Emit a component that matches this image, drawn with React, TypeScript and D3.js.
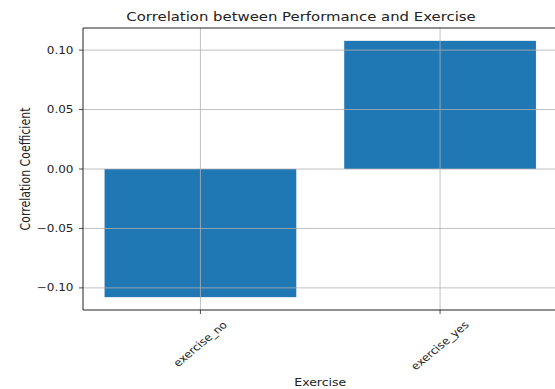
import React, { useEffect, useRef } from "react";
import * as d3 from "d3";

const categories = ["exercise_no", "exercise_yes"];
const values = [-0.1078, 0.1078];
const yTicks = [-0.1, -0.05, 0, 0.05, 0.1];
const yTickLabels = ["−0.10", "−0.05", "0.00", "0.05", "0.10"];
const titleText = "Correlation between Performance and Exercise";
const xLabelText = "Exercise";
const yLabelText = "Correlation Coefficient";

const W = 555;
const H = 389;
const SX = 1.2;
const FONT = "DejaVu Sans, sans-serif";
const TXT = "#222";

export default function App() {
  const ref = useRef<SVGSVGElement>(null);

  useEffect(() => {
    const svg = d3.select(ref.current);
    svg.selectAll("*").remove();

    const left = 83, right = 557.5, top = 28, bottom = 310;
    const edge = W;
    const x = d3.scaleLinear().domain([-0.49, 1.49]).range([left, right]);
    const y = d3.scaleLinear().domain([-0.1186, 0.1186]).range([bottom, top]);
    const bw = 0.8;

    svg.append("rect").attr("width", W).attr("height", H).attr("fill", "#fff");

    // bars
    svg.selectAll("rect.bar")
      .data(values)
      .enter()
      .append("rect")
      .attr("class", "bar")
      .attr("x", (_, i) => x(i - bw / 2))
      .attr("width", (_, i) => x(i + bw / 2) - x(i - bw / 2))
      .attr("y", (d) => y(Math.max(0, d)))
      .attr("height", (d) => Math.abs(y(d) - y(0)))
      .attr("fill", "#1f77b4");

    // grid (above bars)
    const g = svg.append("g");
    yTicks.forEach((t) => {
      g.append("line")
        .attr("x1", left).attr("x2", edge)
        .attr("y1", y(t)).attr("y2", y(t))
        .attr("stroke", "#b0b0b0").attr("stroke-width", 0.8);
    });
    categories.forEach((_, i) => {
      g.append("line")
        .attr("x1", x(i)).attr("x2", x(i))
        .attr("y1", top).attr("y2", bottom)
        .attr("stroke", "#b0b0b0").attr("stroke-width", 0.8);
    });

    // spines (right spine lies outside the picture)
    const sp = svg.append("g").attr("stroke", "#222").attr("stroke-width", 1);
    sp.append("line").attr("x1", left).attr("x2", left).attr("y1", top).attr("y2", bottom);
    sp.append("line").attr("x1", left).attr("x2", edge).attr("y1", bottom).attr("y2", bottom);
    sp.append("line").attr("x1", left).attr("x2", edge).attr("y1", top).attr("y2", top);

    // y ticks
    yTicks.forEach((t, i) => {
      svg.append("line")
        .attr("x1", left - 4).attr("x2", left)
        .attr("y1", y(t)).attr("y2", y(t))
        .attr("stroke", "#222").attr("stroke-width", 0.8);
      svg.append("text")
        .attr("transform", `translate(${left - 9.5},${y(t) + 3.6}) scale(${SX},1)`)
        .attr("text-anchor", "end")
        .attr("font-family", FONT)
        .attr("font-size", 10)
        .attr("fill", TXT)
        .text(yTickLabels[i]);
    });

    // x ticks
    categories.forEach((c, i) => {
      const tx = x(i);
      svg.append("line")
        .attr("x1", tx).attr("x2", tx)
        .attr("y1", bottom).attr("y2", bottom + 4)
        .attr("stroke", "#222").attr("stroke-width", 0.8);
      const t = svg.append("text")
        .attr("text-anchor", "middle")
        .attr("font-family", FONT)
        .attr("font-size", 10)
        .attr("fill", TXT)
        .attr("dy", "0.32em")
        .text(c);
      const node = t.node() as SVGTextElement;
      const w = node.getComputedTextLength();
      const h = 10 * 0.95;
      const bh = (w + h) / Math.SQRT2;
      const cy = bottom + 10 + bh / 2;
      t.attr("transform", `translate(${tx},${cy}) scale(${SX},1) rotate(-45)`);
    });

    // x label
    svg.append("text")
      .attr("transform", `translate(${(left + right) / 2},${385.5}) scale(${SX},1)`)
      .attr("text-anchor", "middle")
      .attr("font-family", FONT)
      .attr("font-size", 10.4)
      .attr("fill", TXT)
      .text(xLabelText);

    // y label
    svg.append("text")
      .attr("transform", `translate(30,${(top + bottom) / 2}) scale(${SX},1) rotate(-90)`)
      .attr("text-anchor", "middle")
      .attr("font-family", FONT)
      .attr("font-size", 11)
      .attr("fill", TXT)
      .text(yLabelText);

    // title
    svg.append("text")
      .attr("transform", `translate(301,21) scale(${SX},1)`)
      .attr("text-anchor", "middle")
      .attr("font-family", FONT)
      .attr("font-size", 12.4)
      .attr("fill", TXT)
      .text(titleText);
  }, []);

  return (
    <div style={{ position: "absolute", left: 0, top: 0, width: W, height: H, overflow: "hidden" }}>
      <svg ref={ref} width={W} height={H} style={{ display: "block" }} />
    </div>
  );
}
